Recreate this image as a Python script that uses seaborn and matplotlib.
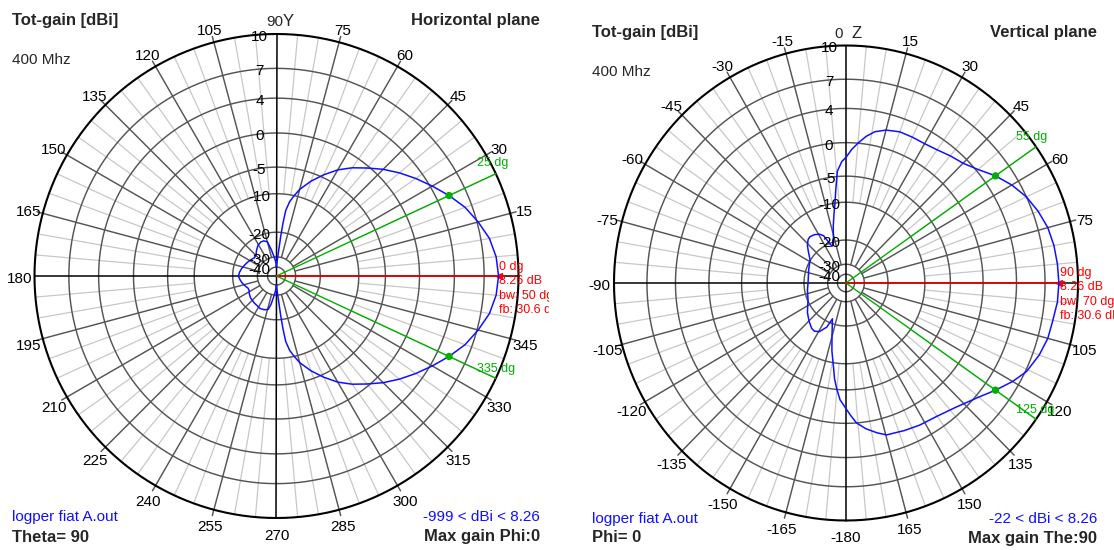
import numpy as np
import pandas as pd
import matplotlib
matplotlib.use("Agg")
import matplotlib.pyplot as plt
from matplotlib.transforms import Bbox, TransformedBbox
import seaborn as sns

# ---------------- data ----------------
ring_db = [10, 7, 4, 0, -5, -10, -20, -30, -40]
ring_labels = ["10", "7", "4", "0", "-5", "-10", "-20", "-30", "-40"]

# Horizontal plane (phi, counter-clockwise from +X), Tot-gain dBi
h_angle = [0, 5, 10, 15, 20, 25, 30, 35, 40, 45, 50, 55, 60, 65, 70, 75, 78, 80, 82, 83, 84, 85, 86.5, 88, 90,
           93, 97, 101, 105, 110, 115, 121, 128, 134, 140, 146, 152, 160, 168, 174, 180,
           186, 192, 198, 203, 208, 213, 220, 230, 243, 250, 256, 259, 262, 266, 270,
           272, 273.5, 275, 276, 277, 278, 280, 282, 285, 290, 295, 300, 305, 310, 315, 320, 325, 330,
           335, 340, 345, 350, 355, 360]
h_gain = [8.26, 8.12, 7.75, 7.1, 6.3, 5.26, 4.2, 3.1, 2.0, 0.9, -0.3, -1.6, -3.0, -4.6, -6.5, -8.6, -10.3, -11.8,
          -14.2, -17.5, -22, -27, -31, -35, -40,
          -35, -30, -27, -23.4, -22.6, -22.6, -23.2, -24.6, -25.8, -26.2, -25.6, -25.0, -24.2, -23.3, -22.7, -22.3,
          -22.9, -23.6, -24.5, -25.2, -25.2, -24.6, -24.0, -23.6, -23.0, -23.2, -23.8, -26, -29, -34, -40,
          -35, -31, -27, -22, -17.5, -14.2, -11.8, -10.3, -8.6, -6.5, -4.6, -3.0, -1.6, -0.3, 0.9, 2.0, 3.1, 4.2,
          5.26, 6.3, 7.1, 7.75, 8.12, 8.26]

# Vertical plane (theta, clockwise from +Z), Tot-gain dBi
v_theta = [-180, -177, -175, -173, -171.5, -168, -164.7, -161, -158.8, -156, -150.7, -146, -142, -135, -127,
           -120, -114, -100, -90, -80, -70, -58, -50, -46.6, -42, -38.7, -33.6, -29, -25.8, -21.4, -18, -15.7,
           -13, -10, -8, -6.3, -4.5, -2, 0, 2.5, 5, 8, 11, 15, 20, 25, 30, 35, 40, 45, 50, 55, 60, 65, 70, 75,
           80, 85, 90, 95, 100, 105, 110, 115.6, 120, 125, 130, 137.7, 145, 152, 158, 164.7, 168, 172, 175.6,
           178, 180]
v_gain = [-2.2, -3.5, -5.0, -7.0, -9.0, -13, -17, -20, -21.9, -18.6, -16.6, -16.0, -16.2, -17.2, -18.3,
          -19.4, -20.2, -21.2, -21.7, -21.6, -21.0, -19.9, -18.0, -17.0, -16.0, -15.7, -16.0, -16.6, -17.5,
          -21.5, -20.5, -18.8, -16, -12.7, -10, -7.3, -4.2, -2.8, -2.2, -1.0, 0.0, 0.9, 1.6, 2.1, 2.4, 2.4,
          2.4, 2.6, 3.0, 3.4, 4.2, 5.26, 6.2, 7.0, 7.5, 7.9, 8.1, 8.2, 8.26, 8.2, 8.0, 7.9, 7.6, 7.1, 6.3,
          5.26, 4.3, 3.2, 2.6, 2.4, 2.2, 2.0, 1.5, 0.8, 0.0, -1.2, -2.2]

h_labels = [a for a in range(15, 360, 15) if a != 90]
v_labels = [15, 30, 45, 60, 75, 105, 120, 135, 150, 165, 180, -165, -150, -135, -120, -105, -90,
            -75, -60, -45, -30, -15]

h_bw = [25, 335]
v_bw = [55, 125]
max_gain = 8.26

# ---------------- styling ----------------
sns.set_style("white")
plt.rcParams['font.family'] = ['Liberation Sans', 'DejaVu Sans']

BLUE = '#1010ff'
GREEN = '#00b000'
RED = '#ff0000'
RING = '#555555'
MINOR = '#c8c8c8'

ring_rn = [1.0, 0.858, 0.735, 0.591, 0.450, 0.340, 0.181, 0.079, 0.037]


def db_to_rn(db):
    xs = list(ring_db[::-1])
    ys = list(ring_rn[::-1])
    return np.interp(db, [-60] + xs, [0.0] + ys)


fig = plt.figure(figsize=(11.14, 5.50), dpi=100)
ax = fig.add_axes([0, 0, 1, 1])
ax.set_xlim(0, 1114)
ax.set_ylim(550, 0)
ax.axis('off')

left = dict(cx=276.5, cy=276, rx=242, ry=242)
right = dict(cx=846, cy=283, rx=232, ry=237.5)


def pxy(p, ang_math, rn):
    a = np.deg2rad(ang_math)
    return p['cx'] + p['rx'] * rn * np.cos(a), p['cy'] - p['ry'] * rn * np.sin(a)


def grid(p):
    t = np.linspace(0, 360, 721)
    for a in range(0, 360, 5):
        if a % 15 == 0:
            continue
        x0, y0 = pxy(p, a, db_to_rn(-10))
        x1, y1 = pxy(p, a, 1.0)
        ax.plot([x0, x1], [y0, y1], color=MINOR, lw=0.9, zorder=1)
    for db in ring_db[1:]:
        x, y = pxy(p, t, db_to_rn(db))
        ax.plot(x, y, color=RING, lw=1.05, zorder=2)
    for a in range(0, 360, 15):
        if a % 90 == 0:
            continue
        x0, y0 = pxy(p, a, db_to_rn(-30))
        x1, y1 = pxy(p, a, 1.025)
        ax.plot([x0, x1], [y0, y1], color=RING, lw=1.05, zorder=2)
    x, y = pxy(p, t, 1.0)
    ax.plot(x, y, color='black', lw=1.5, zorder=3)
    for a in (0, 90):
        x0, y0 = pxy(p, a + 180, 1.0)
        x1, y1 = pxy(p, a, 1.0)
        ax.plot([x0, x1], [y0, y1], color='black', lw=1.1, zorder=3)
    for db, lab in zip(ring_db, ring_labels):
        r = db_to_rn(db)
        ax.text(p['cx'] - 17, p['cy'] - p['ry'] * r + 3, lab, fontsize=11, ha='center', va='center',
                color='black', zorder=6)


def angle_label(p, ang_math, text):
    a = np.deg2rad(ang_math)
    x = p['cx'] + (p['rx'] + 15) * np.cos(a)
    y = p['cy'] - (p['ry'] + 15) * np.sin(a) + 3
    ax.text(x, y, text, fontsize=11, ha='center', va='center', color='black', zorder=6)


def curve(p, ang_math, gains):
    rn = db_to_rn(np.asarray(gains, dtype=float))
    x, y = pxy(p, np.asarray(ang_math, dtype=float), rn)
    df = pd.DataFrame({'x': x, 'y': y})
    sns.lineplot(data=df, x='x', y='y', sort=False, estimator=None, color=BLUE, lw=1.1, ax=ax, zorder=5)


def beam(p, ang_math, gain, lab, lx, ly):
    x0, y0 = pxy(p, ang_math, 0)
    x1, y1 = pxy(p, ang_math, 1.0)
    ax.plot([x0, x1], [y0, y1], color=GREEN, lw=1.0, zorder=4)
    xd, yd = pxy(p, ang_math, db_to_rn(gain))
    sns.scatterplot(x=[xd], y=[yd], color=GREEN, s=28, edgecolor='none', ax=ax, zorder=7)
    ax.text(lx, ly, lab, fontsize=9, color=GREEN, ha='left', va='center', zorder=6)


def maxline(p, ang_math, lines, tx, ty, clipx=None):
    x0, y0 = pxy(p, ang_math, 0)
    x1, y1 = pxy(p, ang_math, db_to_rn(max_gain))
    ax.plot([x0, x1], [y0, y1], color=RED, lw=1.1, zorder=4)
    ax.plot([x1], [y1], marker='<', color=RED, ms=5, zorder=5)
    for i, s in enumerate(lines):
        t = ax.text(tx, ty + 14.3 * i, s, fontsize=9, color=RED, ha='left', va='center', zorder=6)
        if clipx is not None:
            t.set_clip_box(TransformedBbox(Bbox.from_extents(0, 0, clipx, 550), ax.transData))
            t.set_clip_on(True)


# ---------------- left: horizontal plane ----------------
grid(left)
for a in h_labels:
    angle_label(left, a, str(a))
ax.text(left['cx'] - 2, 22, "90", fontsize=11, ha='center', va='center')
ax.text(left['cx'] + 6, 22, "Y", fontsize=12, ha='left', va='center')
beam(left, h_bw[0], max_gain - 3, "25 dg", 477, 163)
beam(left, h_bw[1], max_gain - 3, "335 dg", 477, 369)
maxline(left, 0, ["0 dg", "8.26 dB", "bw: 50 dg", "fb: 30.6 dB"], 499, 267, clipx=549)
curve(left, h_angle, h_gain)

ax.text(12, 20, "Tot-gain [dBi]", fontsize=12, fontweight='bold', ha='left', va='center')
ax.text(12, 60, "400 Mhz", fontsize=11, ha='left', va='center')
ax.text(540, 20, "Horizontal plane", fontsize=12, fontweight='bold', ha='right', va='center')
ax.text(12, 517, "logper fiat A.out", fontsize=11, color=BLUE, ha='left', va='center')
ax.text(12, 537, "Theta= 90", fontsize=12, fontweight='bold', ha='left', va='center')
ax.text(540, 517, "-999 < dBi < 8.26", fontsize=11, color=BLUE, ha='right', va='center')
ax.text(540, 537, "Max gain Phi:0", fontsize=12, fontweight='bold', ha='right', va='center')

# ---------------- right: vertical plane ----------------
grid(right)
for th in v_labels:
    angle_label(right, 90 - th, "-180" if th == 180 else str(th))
ax.text(right['cx'] - 7, 34, "0", fontsize=11, ha='center', va='center')
ax.text(right['cx'] + 6, 33, "Z", fontsize=12, ha='left', va='center')
v_math = [90 - t for t in v_theta]
beam(right, 90 - v_bw[0], max_gain - 3, "55 dg", 1016, 137)
beam(right, 90 - v_bw[1], max_gain - 3, "125 dg", 1016, 410)
maxline(right, 0, ["90 dg", "8.26 dB", "bw: 70 dg", "fb: 30.6 dB"], 1060, 273)
curve(right, v_math, v_gain)

ax.text(592, 33, "Tot-gain [dBi]", fontsize=12, fontweight='bold', ha='left', va='center')
ax.text(592, 72, "400 Mhz", fontsize=11, ha='left', va='center')
ax.text(1097, 33, "Vertical plane", fontsize=12, fontweight='bold', ha='right', va='center')
ax.text(592, 519, "logper fiat A.out", fontsize=11, color=BLUE, ha='left', va='center')
ax.text(592, 538, "Phi= 0", fontsize=12, fontweight='bold', ha='left', va='center')
ax.text(1097, 519, "-22 < dBi < 8.26", fontsize=11, color=BLUE, ha='right', va='center')
ax.text(1097, 538, "Max gain The:90", fontsize=12, fontweight='bold', ha='right', va='center')

fig.savefig("out.png", dpi=100, facecolor='white')
